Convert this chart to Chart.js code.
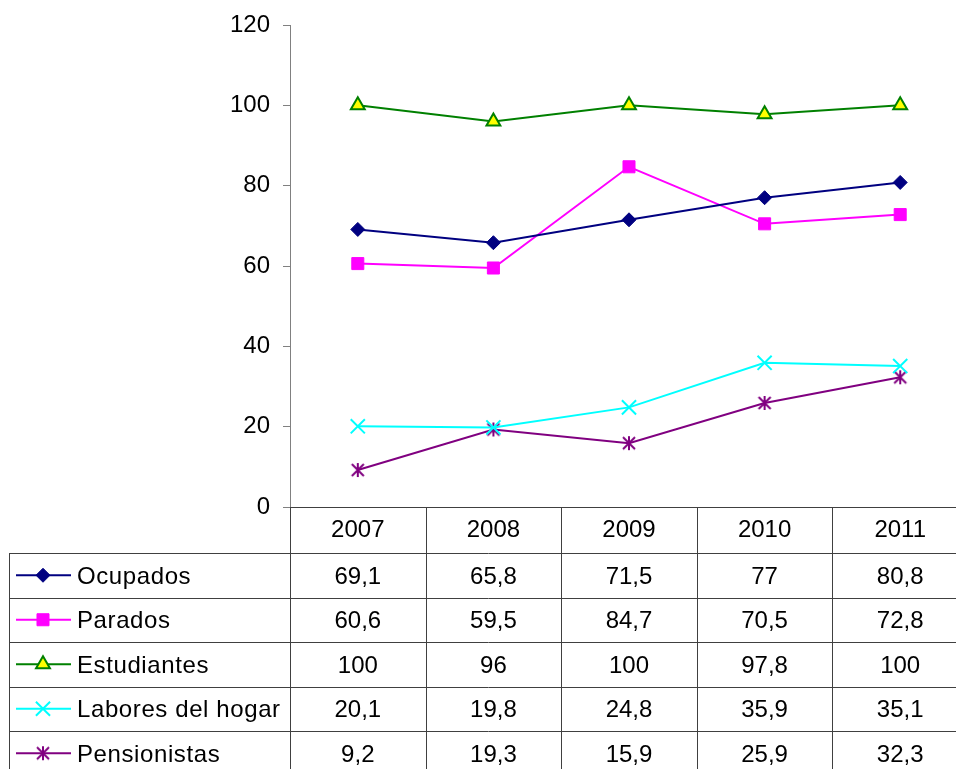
<!DOCTYPE html>
<html>
<head>
<meta charset="utf-8">
<script src="https://cdn.jsdelivr.net/npm/chart.js@4.4.1/dist/chart.umd.min.js"></script>
<style>
    html, body { margin: 0; padding: 0; background: #fff; overflow: hidden; }
    #wrap { position: relative; width: 980px; height: 769px; }
</style>
</head>
<body>
<div id="wrap"><canvas id="chart"></canvas></div>
<script>
var years = ["2007", "2008", "2009", "2010", "2011"];
var ocupados = [69.1, 65.8, 71.5, 77, 80.8];
var parados = [60.6, 59.5, 84.7, 70.5, 72.8];
var estudiantes = [100, 96, 100, 97.8, 100];
var labores = [20.1, 19.8, 24.8, 35.9, 35.1];
var pensionistas = [9.2, 19.3, 15.9, 25.9, 32.3];

var FONT = "Arial, 'Liberation Sans', sans-serif";

function fmt(v) {
    return String(v).replace(".", ",");
}

// asterisco tipo Excel (vertical + dos diagonales)
function asterisk(color) {
    var c = document.createElement("canvas");
    c.width = 16;
    c.height = 16;
    var g = c.getContext("2d");
    g.strokeStyle = color;
    g.lineWidth = 2;
    g.beginPath();
    g.moveTo(8, 1);
    g.lineTo(8, 15);
    g.moveTo(2, 2);
    g.lineTo(14, 14);
    g.moveTo(14, 2);
    g.lineTo(2, 14);
    g.stroke();
    return c;
}

// tabla de datos bajo el grafico, alineada con la escala x
var dataTable = {
    id: "dataTable",
    afterDraw: function (chart) {
        var ctx = chart.ctx;
        var area = chart.chartArea;
        var x = chart.scales.x;
        var bottom = chart.height;
        var headerH = 46;
        var rowH = 44.5;
        var n = years.length;
        var step = (area.right - area.left) / n;

        ctx.save();
        ctx.strokeStyle = "#404040";
        ctx.lineWidth = 1;
        ctx.beginPath();
        for (var i = 0; i <= n; i++) {
            var cx = Math.round(area.left + i * step) + 0.5;
            ctx.moveTo(cx, area.bottom);
            ctx.lineTo(cx, bottom);
        }
        ctx.moveTo(9.5, area.bottom + headerH);
        ctx.lineTo(9.5, bottom);
        ctx.moveTo(area.left, area.bottom + 0.5);
        ctx.lineTo(area.right, area.bottom + 0.5);
        for (var r = 0; r < 5; r++) {
            var ry = Math.round(area.bottom + headerH + r * rowH) + 0.5;
            ctx.moveTo(9, ry);
            ctx.lineTo(area.right, ry);
        }
        ctx.stroke();

        ctx.fillStyle = "#000";
        ctx.font = "24px " + FONT;
        ctx.textAlign = "center";
        ctx.textBaseline = "middle";
        years.forEach(function (y, i) {
            ctx.fillText(y, x.getPixelForValue(i), area.bottom + headerH / 2);
        });

        chart.data.datasets.forEach(function (ds, r) {
            var cy = area.bottom + headerH + r * rowH + rowH / 2 + 2;
            ctx.letterSpacing = "0px";
            ds.data.forEach(function (v, i) {
                ctx.textAlign = "center";
                ctx.fillText(fmt(v), x.getPixelForValue(i), cy);
            });
            // clave de la serie
            ctx.strokeStyle = ds.borderColor;
            ctx.lineWidth = 2;
            ctx.beginPath();
            ctx.moveTo(16, cy - 2);
            ctx.lineTo(71, cy - 2);
            ctx.stroke();
            ctx.fillStyle = ds.pointBackgroundColor;
            ctx.strokeStyle = ds.pointBorderColor;
            ctx.lineWidth = ds.pointBorderWidth;
            Chart.helpers.drawPoint(ctx, {
                pointStyle: ds.pointStyle,
                radius: ds.pointRadius,
                rotation: 0,
                borderWidth: ds.pointBorderWidth
            }, 43, cy - 2);
            ctx.fillStyle = "#000";
            ctx.textAlign = "left";
            ctx.letterSpacing = "0.6px";
            ctx.fillText(ds.label, 77, cy);
        });
        ctx.restore();
    }
};

var ctx = document.getElementById("chart").getContext("2d");
var myChart = new Chart(ctx, {
    type: "line",
    data: {
        labels: years,
        datasets: [
            {
                label: "Ocupados",
                data: ocupados,
                borderColor: "#000080",
                pointBackgroundColor: "#000080",
                pointBorderColor: "#000080",
                pointStyle: "rectRot",
                pointRadius: 7,
                pointBorderWidth: 1,
            },
            {
                label: "Parados",
                data: parados,
                borderColor: "#ff00ff",
                pointBackgroundColor: "#ff00ff",
                pointBorderColor: "#ff00ff",
                pointStyle: "rect",
                pointRadius: 8.5,
                pointBorderWidth: 1,
            },
            {
                label: "Estudiantes",
                data: estudiantes,
                borderColor: "#008000",
                pointBackgroundColor: "#ffff00",
                pointBorderColor: "#008000",
                pointStyle: "triangle",
                pointRadius: 8,
                pointBorderWidth: 2,
            },
            {
                label: "Labores del hogar",
                data: labores,
                borderColor: "#00ffff",
                pointBackgroundColor: "#00ffff",
                pointBorderColor: "#00ffff",
                pointStyle: "crossRot",
                pointRadius: 10,
                pointBorderWidth: 2,
            },
            {
                label: "Pensionistas",
                data: pensionistas,
                borderColor: "#800080",
                pointBackgroundColor: "#800080",
                pointBorderColor: "#800080",
                pointStyle: asterisk("#800080"),
                pointRadius: 8,
                pointBorderWidth: 2,
            },
        ],
    },
    options: {
        responsive: true,
        maintainAspectRatio: false,
        animation: false,
        devicePixelRatio: 1,
        layout: {
            padding: { top: 25, bottom: 262, left: 0, right: 10 },
        },
        elements: {
            line: { borderWidth: 2, tension: 0 },
        },
        scales: {
            x: {
                type: "category",
                offset: true,
                display: false,
            },
            y: {
                min: 0,
                max: 120,
                afterFit: function (scale) {
                    scale.width = 290;
                },
                ticks: {
                    stepSize: 20,
                    color: "#000",
                    padding: 13,
                    font: { family: FONT, size: 24, lineHeight: 1 },
                },
                grid: {
                    drawOnChartArea: false,
                    drawTicks: true,
                    tickLength: 7,
                    color: "#808080",
                },
                border: { color: "#808080", width: 1 },
            },
        },
        plugins: {
            legend: { display: false },
            tooltip: { enabled: false },
        },
    },
    plugins: [dataTable],
});
</script>
</body>
</html>
